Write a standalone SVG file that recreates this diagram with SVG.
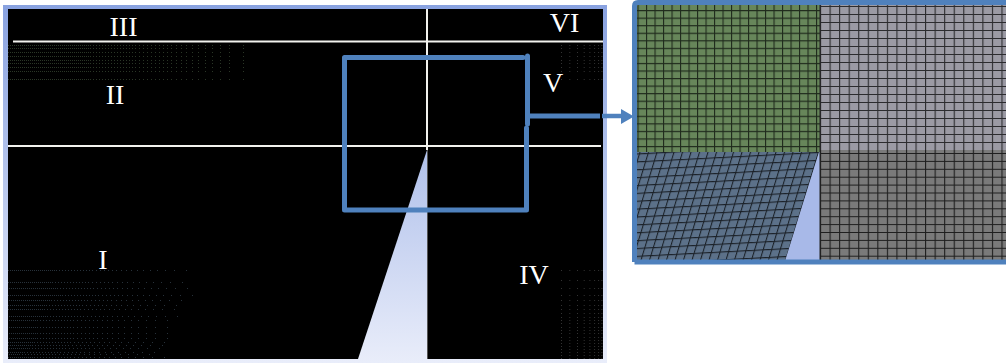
<svg xmlns="http://www.w3.org/2000/svg" width="1006" height="363" viewBox="0 0 1006 363">
<style>
.lbl{font-family:"Liberation Serif","DejaVu Serif",serif;font-size:28px;fill:#fff;text-anchor:middle}
.wl{stroke:#f2f2ee;stroke-width:2;fill:none}
.bl{stroke:#4f81bd;stroke-width:5;fill:none;stroke-linejoin:round;stroke-linecap:round}
.d1{fill:none;stroke:#2a3626;stroke-width:1;stroke-dasharray:1 13 1 8 1 7 1 6 1 6 1 5 1 5 1 4 1 4 1 4 1 3 1 3 1 3 1 3 1 3 1 3 1 3 1 3 1 3 1 2 1 2 1 2 1 2 1 2 1 2 1 2 1 2 1 2 1 2 1 2 1 2 1 2 1 2 1 2 1 1 1 1 1 1 1 1 1 1 1 1 1 1 1 1 1 1 1 1 1 1 1 1 1 1 1 1 1 1 1 1 1 1 1 1 1 1 1 1 1 1 1 1 1 1 1 1 1 1 1 1 1 1 1 1 1 1 1 1 1 1 1 1 1 1 1 1 1 1 1 1 1 1 1 1 1 1 1 1 1 1 1 1 1 1 1 1 1 1 1 1 1 1 1 1 1 1 1 1}
.d2{fill:none;stroke:#27313a;stroke-width:1;stroke-dasharray:1 11 1 8 1 7 1 6 1 6 1 5 1 5 1 4 1 4 1 4 1 3 1 3 1 3 1 3 1 3 1 3 1 2 1 2 1 2 1 2 1 2 1 2 1 2 1 2 1 2 1 2 1 2 1 2 1 1 1 1 1 1 1 1 1 1 1 1 1 1 1 1 1 1 1 1 1 1 1 1 1 1 1 1 1 1 1 1 1 1 1 1 1 1 1 1 1 1 1 1 1 1 1 1 1 1 1 1 1 1}
.d3{fill:none;stroke:#333;stroke-width:1;stroke-dasharray:1 7.3 1 6.7 1 5.7 1 4.7 1 3.7 1 3 1 2.3 1 300}
</style>
<defs>
<linearGradient id="fr" gradientUnits="userSpaceOnUse" x1="0" y1="5" x2="0" y2="363"><stop offset="0" stop-color="#89a2e0"/><stop offset="1" stop-color="#e9edfa"/></linearGradient>
<pattern id="gGreen" width="8.5" height="7.55" patternUnits="userSpaceOnUse" x="637.5" y="2.5"><rect width="8.5" height="7.55" fill="#67865a"/><path d="M.5 0V7.55M0 .5H8.5" stroke="#1f2a1c" stroke-width="1.200" fill="none"/></pattern>
<pattern id="gGray" width="9.55" height="8" patternUnits="userSpaceOnUse" x="820" y="6"><rect width="9.55" height="8" fill="#9b9aa4"/><path d="M.5 0V8M0 .5H9.55" stroke="#2b2b2e" stroke-width="1.200" fill="none"/></pattern>
<pattern id="gDark" width="9.55" height="7.9" patternUnits="userSpaceOnUse" x="820" y="153"><rect width="9.55" height="7.9" fill="#7a7a7a"/><path d="M.5 0V7.9M0 .5H9.55" stroke="#1e1e1e" stroke-width="1.200" fill="none"/></pattern>
<pattern id="gBlue" width="8.5" height="8" patternUnits="userSpaceOnUse" patternTransform="translate(818 152) skewX(-17) skewY(-3)"><rect width="8.5" height="8" fill="#5c7189"/><path d="M.5 0V8M0 .5H8.5" stroke="#1b2128" stroke-width="1.200" fill="none"/></pattern>
</defs>
<rect width="1006" height="363" fill="#fff"/>
<g id="main-domain">
<rect x="3" y="5" width="604" height="358" fill="url(#fr)"/>
<rect x="8" y="9" width="595" height="350" fill="#000"/>
<polygon points="427,150 427,359 358,359" fill="url(#fr)"/>
<path d="M427.500 150V359" stroke="#555" stroke-width="1"/>
</g>
<g id="mesh-dots">
<path class="d1" d="M244 45.500H8M244 48.500H8M244 52.500H8M244 56.500H8M244 60.500H8M244 63.500H8M244 67.500H8M244 71.500H8M244 79.500H8"/>
<path class="d2" d="M187 270.500H8M183 282.500H8M188 288.500H8M193 295.500H8M182 300.500H8M177 305.500H8M175 309.500H8M178 316.500H8M168 320.500H8M168 327.500H8M168 333.500H8M168 338.500H8M165 342.500H8M163 345.500H8M160 348.500H8M155 352.500H8M150 354.500H8M165 357.500H8"/>
<path class="d3" d="M561 45.500H603M561 48.500H603M561 52.500H603M561 56.500H603M561 60.500H603M561 63.500H603M561 67.500H603M561 71.500H603M561 79.500H603"/>
<path class="d3" d="M561 270.500H603M561 280.500H603M561 288.500H603M561 295.500H603M561 300.500H603M561 305.500H603M561 309.500H603M561 313.500H603M561 317.500H603M561 320.500H603M561 323.500H603M561 327.500H603M561 330.500H603M561 333.500H603M561 337.500H603M561 340.500H603M561 343.500H603M561 346.500H603M561 349.500H603M561 352.500H603M561 355.500H603M561 358.500H603"/>
</g>
<g id="zoomed-mesh">
<rect x="636" y="4" width="184" height="148" fill="url(#gGreen)"/>
<rect x="820" y="4" width="186" height="148" fill="url(#gGray)"/>
<rect x="636" y="152" width="184" height="109" fill="#a8b9e8"/>
<rect x="820" y="150" width="186" height="111" fill="url(#gDark)"/>
<polygon points="636,152 819,152 785,261 636,261" fill="url(#gBlue)"/>
<path d="M820 4V261" stroke="#222" stroke-width="1"/>
<path d="M634.500 262V6Q634.500 2.500 638 2.500H1006M634.500 262H1006" fill="none" stroke="#4f81bd" stroke-width="5"/>
</g>
<g id="connectors">
<path class="wl" d="M13 41.500H603M8 146H601M427 9V150"/>
<path class="bl" d="M523 57.500H344.500V210H526.500V128"/>
<path class="bl" stroke-linecap="butt" d="M527.500 56V124"/>
<path d="M529 116H600" stroke="#4f81bd" stroke-width="5" fill="none"/>
<path d="M602 116H621" stroke="#4f81bd" stroke-width="4.500" fill="none"/>
<polygon points="621,109 634,116.500 621,124" fill="#4f81bd"/>
</g>
<g id="labels">
<text class="lbl" x="123.500" y="36">III</text>
<text class="lbl" x="115" y="104">II</text>
<text class="lbl" x="103" y="269">I</text>
<text class="lbl" x="564.500" y="32">VI</text>
<text class="lbl" x="553" y="92">V</text>
<text class="lbl" x="534" y="284">IV</text>
</g>
</svg>
